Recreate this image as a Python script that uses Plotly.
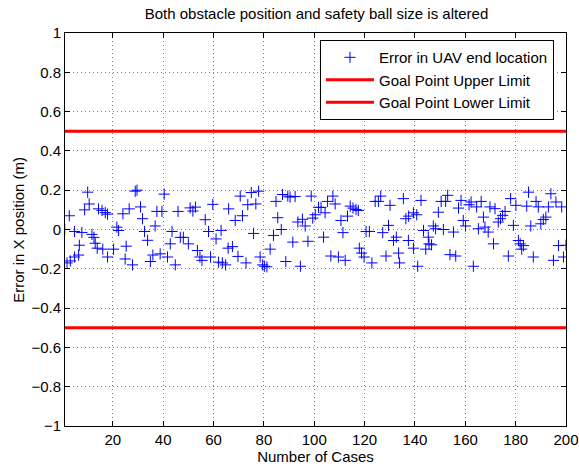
import plotly.graph_objects as go

cases = [0.9, 1.8, 2.7, 3.1, 4.8, 4.8, 6.4, 6.7, 7.7, 8.8, 10, 10.6, 11.7, 12.5, 13, 13.8, 14.3, 15.7, 16, 17,
         17.9, 17.9, 20.3, 21.6, 22.3, 24, 24.9, 25.3, 26.5, 27.8, 28.9, 29.6, 31, 31.8, 32.6,
         33.8, 34.9, 35.9, 36.8, 37.5, 38.8, 39.5, 40.4, 41.7, 42.8, 43.5, 44.8, 45.9, 46.8, 48, 50, 50.7,
         51.8, 52.8, 53.6, 54.6, 55.4, 56.7, 58, 58.8, 59.7, 61, 62, 63, 63.5, 64.8, 65.8, 66,
         67.5, 68.6, 69.7, 70.6, 71.5, 72.9, 73.6, 75, 75.9, 76.8, 77.9, 78.5, 79.5, 80.2, 81.2, 82.5,
         83.8, 84.8, 85.5, 86.9, 87.4, 88.7, 89.5, 90.4, 91.5, 92.4, 93.5, 94.5, 95.3, 96.4, 97.5, 98.8, 99.4,
         100.4, 101.7, 102.7, 103.7, 104.3, 105.3, 106.6, 107.4, 108.3, 109.6, 110.6, 111.4, 112.3, 113.2,
         114.3, 115.4, 116.6, 117.5, 117.9, 118.8, 119.8, 120.6, 121.9, 122.9, 124.2, 125.5, 126.4, 127.2,
         128.5, 129.5, 130.1, 131.5, 132.6, 133.5, 133.9,
         135.4, 136.4, 137.4, 137.5, 139.4, 139.4, 140.7, 141.1, 142.4, 143.4, 144.3, 145.3, 145.6, 146.6,
         147.3, 148.2, 149.3, 150.4, 151.3, 152.2, 153, 153.9, 155.3, 156.2, 157.3, 158.3, 159.2, 160.1,
         161.5, 162.3, 163.2, 164.5, 165.2, 166.3, 167.2,
         167.8, 169.1, 169.8, 171.2, 171.8, 173.1, 174, 174.8, 175.8, 177.1, 178, 179.1, 180.1, 181.1,
         181.8, 182.4, 183.1, 184.4, 185.1, 186, 187, 188.1, 189, 190, 191, 192, 193, 194, 195, 196, 197,
         198.3, 199, 200]

errors = [0.0, -0.17, 0.07, -0.16, -0.01, -0.14, -0.13, -0.08, -0.015, 0.10, 0.19, 0.13, -0.025, -0.04,
          -0.07, -0.095, 0.105, 0.097, -0.10, 0.086, 0.078, -0.14, -0.10, 0.012, -0.005, 0.08, -0.15,
          -0.085, 0.105, -0.18, 0.195, 0.20, 0.115, 0.055, -0.01,
          -0.055, -0.163, -0.13, 0.018, 0.092, -0.124, 0.092, 0.18, -0.14, -0.073, -0.01, -0.18, 0.092,
          -0.04, -0.04, -0.073, 0.11, 0.094, 0.114, -0.107, -0.14, -0.157, 0.05, -0.01, -0.14, 0.128,
          -0.048, -0.166, -0.005, -0.17, -0.18, -0.095, 0.105,
          -0.087, 0.046, -0.137, 0.17, 0.07, -0.17, 0.126, 0.188, -0.02, 0.13, 0.195, -0.14, -0.18,
          -0.187, -0.19, -0.10, -0.03, 0.143, 0.06, 0.0, 0.178, -0.163, 0.17, 0.165, -0.064, 0.168,
          0.038, -0.187, 0.052, 0.018, -0.06, 0.17, 0.058,
          0.075, 0.113, 0.113, -0.039, 0.085, 0.143, -0.135, 0.17, 0.13, -0.14, 0.046, -0.016, -0.157,
          0.068, 0.119, 0.109, 0.102, 0.097, -0.095, -0.12, -0.14, -0.01, -0.01, -0.17, 0.143, 0.143,
          0.17, -0.016, -0.135, 0.021, 0.123, -0.056, -0.039, -0.12, -0.17,
          0.157, 0.055, -0.056, 0.068, 0.085, -0.095, 0.075, -0.187, 0.148, -0.005, -0.10, -0.039,
          -0.073, -0.078, 0.018, 0.004, 0.088, 0.143, 0.0, 0.143, 0.174, -0.128, -0.013, -0.135,
          0.109, 0.148, 0.046, 0.018, 0.126, 0.14, -0.187, 0.115, 0.004, 0.143, 0.063,
          0.012, -0.013, 0.115, -0.073, 0.106, 0.038, 0.055, 0.072, 0.092, -0.135, 0.157, 0.021,
          0.123, -0.056, -0.073, -0.10, -0.082, 0.119, 0.19, 0.018, -0.14, 0.143, 0.115, 0.029,
          0.051, 0.063, 0.115, 0.182, -0.157, 0.14, -0.082, 0.115, -0.14, -0.08]

limit_x = [1, 200]
upper_limit = [0.5, 0.5]
lower_limit = [-0.5, -0.5]

FONT = "Liberation Sans, Arial, Helvetica, sans-serif"

fig = go.Figure()
fig.add_trace(go.Scatter(
    x=cases, y=errors, mode="markers", name="Error in UAV end location",
    marker=dict(symbol="cross-thin", size=8, color="rgb(0,0,255)",
                line=dict(color="rgb(0,0,255)", width=1)),
))
fig.add_trace(go.Scatter(
    x=limit_x, y=upper_limit, mode="lines", name="Goal Point Upper Limit",
    line=dict(color="rgb(255,0,0)", width=3),
))
fig.add_trace(go.Scatter(
    x=limit_x, y=lower_limit, mode="lines", name="Goal Point Lower Limit",
    line=dict(color="rgb(255,0,0)", width=3),
))

axis_common = dict(
    showline=True, linecolor="black", linewidth=1, mirror="ticks",
    ticks="inside", ticklen=5, tickcolor="black", tickwidth=1,
    showgrid=True, gridcolor="rgba(0,0,0,0.5)", griddash="1px,3px", gridwidth=1,
    zeroline=False, automargin=False,
    tickfont=dict(family=FONT, size=15, color="black"),
)

fig.update_xaxes(range=[1, 200], tick0=0, dtick=20,
                 title=dict(text="Number of Cases", font=dict(family=FONT, size=15, color="black"),
                            standoff=2),
                 **axis_common)
fig.update_yaxes(range=[-1, 1], tick0=0, dtick=0.2, **axis_common)

fig.add_annotation(text="Error in X position (m)", textangle=-90,
                   xref="paper", yref="paper", x=-0.0932, y=0.5,
                   xanchor="center", yanchor="middle", showarrow=False,
                   font=dict(family=FONT, size=15, color="black"))

fig.update_layout(
    width=579, height=470,
    margin=dict(l=65, r=13, t=33, b=44),
    paper_bgcolor="white", plot_bgcolor="white",
    title=dict(text="Both obstacle position and safety ball size is altered",
               font=dict(family=FONT, size=15, color="black"),
               x=0.5466, xanchor="center", y=0.97, yanchor="middle", yref="container"),
    legend=dict(x=0.976, y=0.982, xanchor="right", yanchor="top",
                bgcolor="white", bordercolor="black", borderwidth=1,
                font=dict(family=FONT, size=15, color="black"),
                tracegroupgap=0, itemwidth=48),
    showlegend=True,
)

fig.write_html("out.html")
